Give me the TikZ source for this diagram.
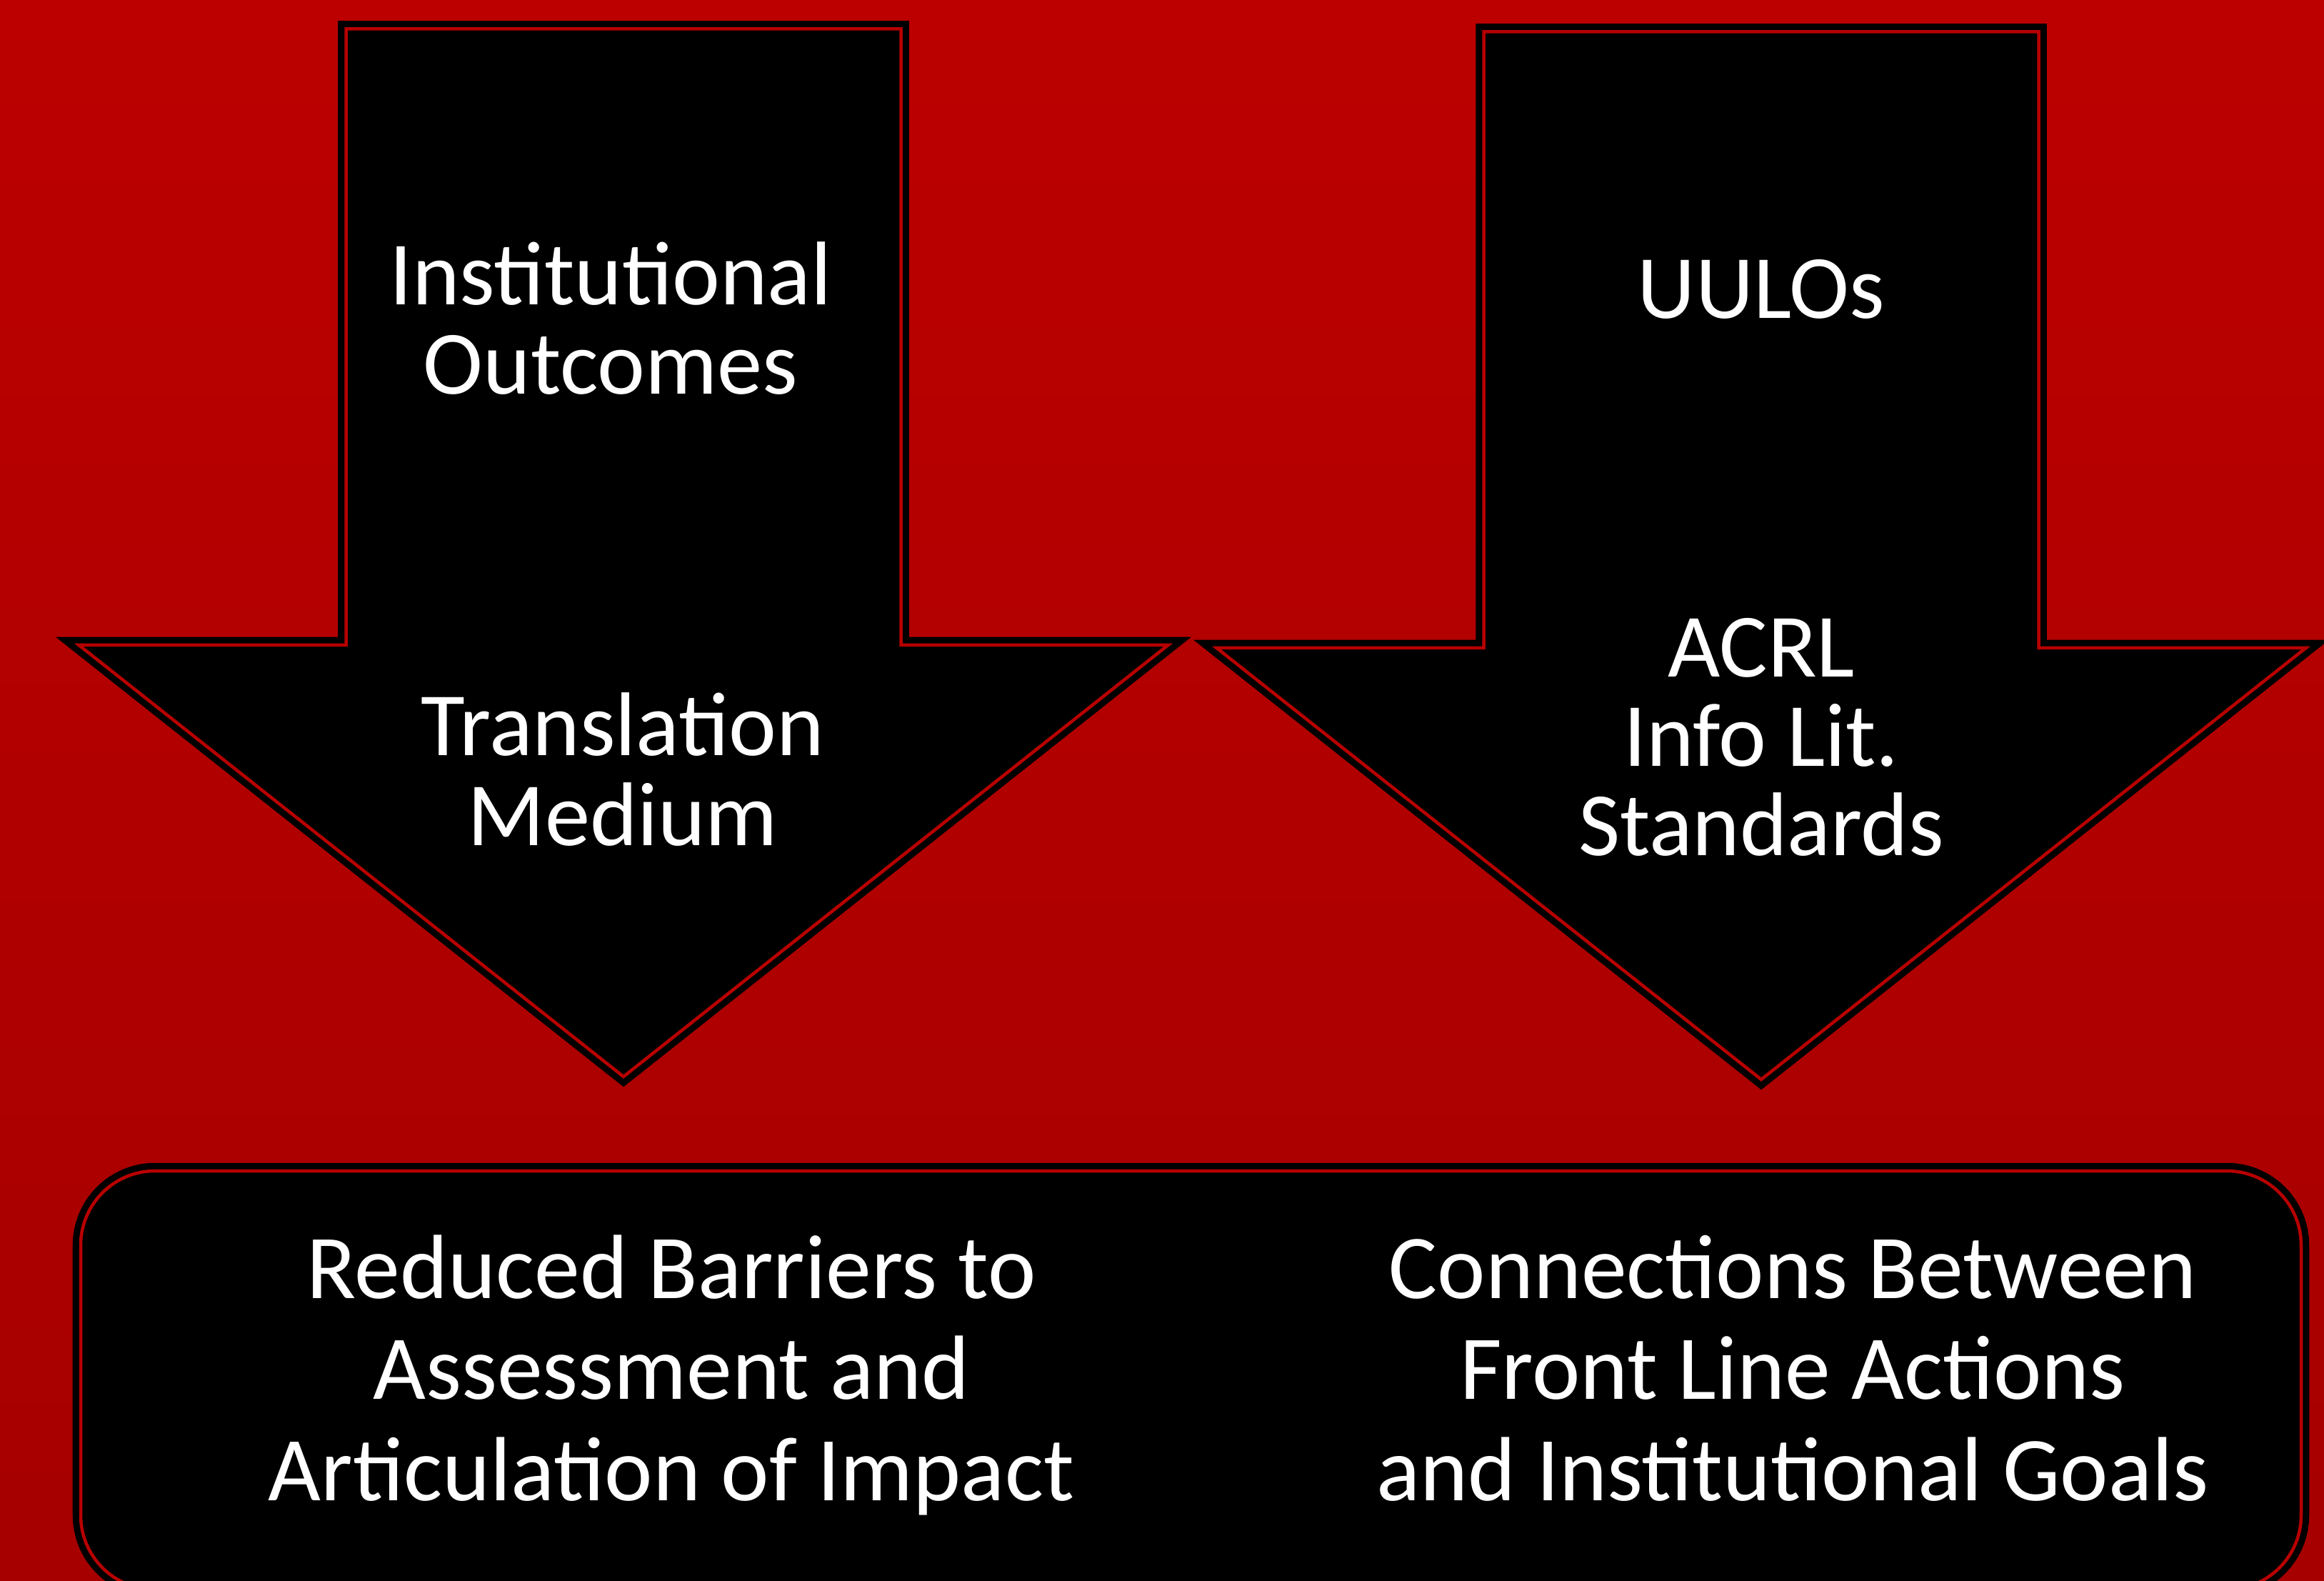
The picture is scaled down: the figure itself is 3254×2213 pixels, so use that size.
\documentclass[tikz,border=0pt]{standalone}
\usepackage{fontspec}
\setmainfont{Carlito}
\definecolor{bgtop}{RGB}{188,0,0}
\definecolor{bgbottom}{RGB}{166,0,0}
\definecolor{rimred}{RGB}{184,0,0}
\tikzset{
  slab/.style={fill=black,draw=black,double=rimred,line width=0.09cm,double distance=0.045cm,line join=miter},
  arrowtext/.style={text=white,align=center,inner sep=0pt,anchor=base,font=\fontsize{36pt}{35.6pt}\selectfont},
  boxtext/.style={text=white,align=center,inner sep=0pt,anchor=base,font=\fontsize{36.3pt}{40.2pt}\selectfont}
}
\begin{document}
\begin{tikzpicture}[x=0.01cm,y=-0.01cm]
\clip (0,0) rectangle (3254,2213);
\shade[top color=bgtop,bottom color=bgbottom] (0,0) rectangle (3254,2213);
% left arrow
\draw[slab] (484.5,40.5)--(1261.5,40.5)--(1261.5,903)--(1635.5,903)--(873,1507)--(110.5,903)--(484.5,903)--cycle;
% right arrow
\draw[slab] (2077.5,44.5)--(2854.5,44.5)--(2854.5,907)--(3228.5,907)--(2466,1511)--(1703.5,907)--(2077.5,907)--cycle;
% bottom box
\draw[slab,rounded corners=1.04cm] (113,1639) rectangle (3222,2225);
% texts, anchored at the baseline of the last line
\node (outcomes) [arrowtext] at (855,552) {Institutional\\Outcomes};
\node (medium) [arrowtext] at (872,1183) {Translation\\Medium};
\node (uulos) [arrowtext] at (2466,446) {UULOs};
\node (acrl) [arrowtext] at (2466,1198) {ACRL\\Info Lit.\\Standards};
\node (barriers) [boxtext] at (940,2100) {Reduced Barriers to\\Assessment and\\Articulation of Impact};
\node (goals) [boxtext] at (2510,2100) {Connections Between\\Front Line Actions\\and Institutional Goals};
\end{tikzpicture}
\end{document}
